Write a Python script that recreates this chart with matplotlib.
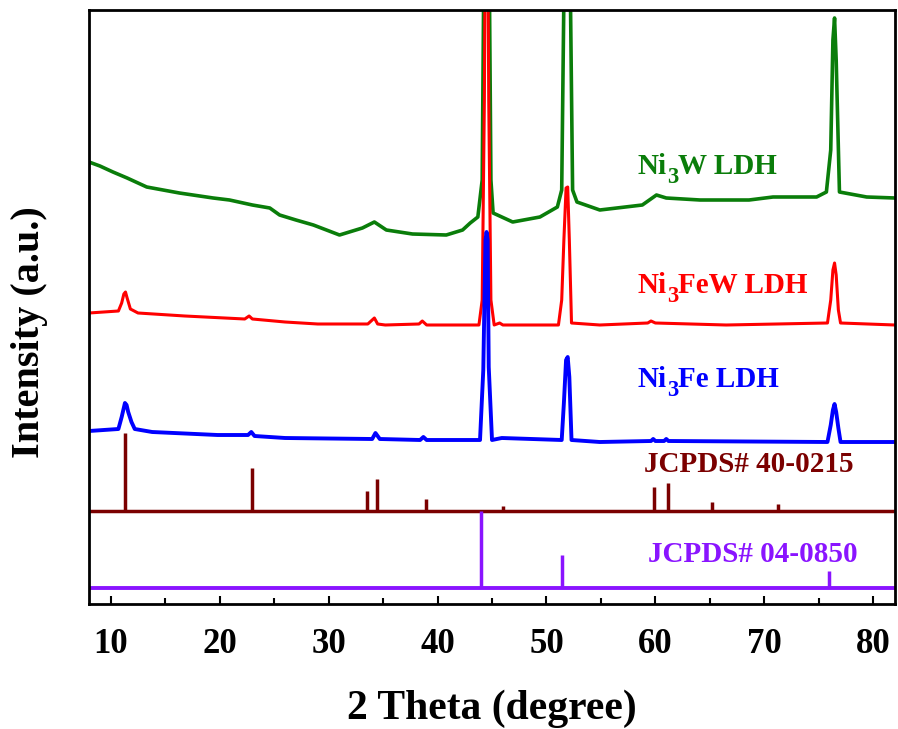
import matplotlib
matplotlib.use("Agg")
import matplotlib.pyplot as plt
import numpy as np
from matplotlib.ticker import MultipleLocator
from matplotlib.transforms import offset_copy

plt.rcParams['font.family'] = ['Liberation Serif', 'DejaVu Serif']
plt.rcParams['font.weight'] = 'bold'

# ---- data (arbitrary intensity units, offsets included) ----
TOP = 604
ni3w_x = [8.0, 9.0, 10.2, 11.5, 13.3, 16.3, 19.4, 20.9, 23.0, 24.6, 25.5, 27.0, 28.6, 31.0, 33.1, 34.2,
          35.3, 37.7, 40.8, 42.3, 43.0, 43.7, 44.1, 44.3, 44.5, 44.7, 44.9, 45.1, 46.9, 49.4, 51.0, 51.4,
          51.7, 51.9, 52.1, 52.4, 52.8, 54.9, 58.8, 60.1, 61.0, 64.1, 68.6, 70.8, 74.8, 75.7, 76.1, 76.3,
          76.45, 76.6, 76.9, 79.4, 82.0]
ni3w_py = [162, 166, 172, 178, 187, 193, 198, 200, 205, 208, 215, 220, 225, 235, 228, 222,
           230, 234, 235, 230, 223, 217, 180, -100, -300, -100, 180, 213, 222, 217, 207, 190,
           -100, -300, -100, 190, 202, 210, 205, 195, 198, 200, 200, 197, 197, 192, 150, 40,
           18, 60, 192, 197, 198]

ni3few_x = [8.0, 10.7, 11.0, 11.2, 11.35, 11.5, 11.8, 12.5, 16.8, 22.3, 22.7, 23.0, 26.0, 29.0, 33.6, 34.2,
            34.5, 35.2, 38.3, 38.6, 39.0, 43.8, 44.1, 44.3, 44.5, 44.7, 44.9, 45.2, 45.7, 46.0, 51.1, 51.4,
            51.6, 51.8, 51.95, 52.1, 52.3, 54.9, 59.3, 59.6, 60.0, 66.5, 75.8, 76.1, 76.3, 76.45, 76.6, 76.8,
            77.0, 82.0]
ni3few_py = [313, 311, 303, 294, 292, 298, 309, 313, 316, 319, 316, 319, 322, 324, 324, 318,
             324, 325, 324, 321, 325, 325, 300, 100, -300, 100, 300, 325, 323, 325, 325, 300,
             240, 188, 187, 240, 323, 325, 323, 321, 323, 325, 323, 300, 270, 263, 275, 310,
             323, 325]

ni3fe_x = [8.0, 10.7, 11.0, 11.3, 11.45, 11.6, 11.9, 12.2, 13.8, 19.8, 22.6, 22.9, 23.2, 26.0, 34.0, 34.3,
           34.7, 38.4, 38.7, 39.0, 43.9, 44.2, 44.4, 44.5, 44.6, 44.7, 45.0, 45.9, 51.4, 51.6, 51.8, 51.95,
           52.1, 52.3, 54.9, 59.6, 59.8, 60.0, 60.8, 61.0, 61.2, 75.8, 76.1, 76.3, 76.45, 76.6, 76.8, 77.0,
           82.0]
ni3fe_py = [431, 429, 417, 403, 405, 412, 422, 429, 432, 435, 435, 432, 436, 438, 439, 433,
            439, 440, 437, 440, 440, 370, 240, 232, 240, 367, 440, 438, 440, 403, 360, 357,
            377, 440, 442, 441, 439, 441, 441, 439, 441, 442, 425, 410, 404, 412, 428, 442,
            442]

ldh_ref_pos = [11.3, 23.0, 33.5, 34.4, 38.9, 46.0, 59.9, 61.2, 65.2, 71.3]
ldh_ref_h = [78, 43, 20, 32, 12, 5, 24, 28, 9, 7]
ldh_ref_base = 604 - 511

ni_ref_pos = [44.0, 51.4, 75.9]
ni_ref_h = [77, 33, 17]
ni_ref_base = 604 - 588

# sample labels split as (before subscript, subscript, after subscript)
sample_labels = [("Ni", "3", "W LDH"), ("Ni", "3", "FeW LDH"), ("Ni", "3", "Fe LDH")]
ref_labels = ["JCPDS# 40-0215", "JCPDS# 04-0850"]
xticks = [10, 20, 30, 40, 50, 60, 70, 80]

green = '#0A7D0A'
red = '#FF0000'
blue = '#0000FF'
dred = '#7B0000'
purple = '#8A14FF'

fig = plt.figure(figsize=(8.98, 7.29), dpi=100)
ax = fig.add_axes([89/898, (729-604)/729, (895-89)/898, 594/729])

def to_y(py):
    return TOP - np.asarray(py, dtype=float)

ax.plot(ni3w_x, to_y(ni3w_py), color=green, lw=2.6)
ax.plot(ni3few_x, to_y(ni3few_py), color=red, lw=2.2)
ax.plot(ni3fe_x, to_y(ni3fe_py), color=blue, lw=2.8)

ax.axhline(ldh_ref_base, color=dred, lw=2.5)
ax.vlines(ldh_ref_pos, ldh_ref_base, np.array(ldh_ref_h) + ldh_ref_base, color=dred, lw=2.5)
ax.axhline(ni_ref_base, color=purple, lw=2.8)
ax.vlines(ni_ref_pos, ni_ref_base, np.array(ni_ref_h) + ni_ref_base, color=purple, lw=2.5)

ax.set_xlim(8, 82)
ax.set_ylim(0, 594)
ax.set_yticks([])
ax.xaxis.set_minor_locator(MultipleLocator(5))
ax.set_xticks(xticks)
ax.set_xticklabels([str(t) for t in xticks])
ax.tick_params(axis='x', which='major', direction='in', length=6, width=1.5, labelsize=25, pad=17)
ax.tick_params(axis='x', which='minor', direction='in', length=4, width=1.5)
for s in ax.spines.values():
    s.set_linewidth(2)

ax.set_xlabel("2 Theta (degree)", fontsize=30, fontweight='bold', labelpad=21)
ax.set_ylabel("Intensity (a.u.)", fontsize=29, fontweight='bold')
ax.yaxis.set_label_coords(-0.051, 0.458)

renderer = fig.canvas.get_renderer()

def sub_label(x, y, parts, color, fs=21):
    before, sub, after = parts
    t1 = ax.text(x, y, before, color=color, fontsize=fs, fontweight='bold', va='baseline', ha='left')
    w1 = t1.get_window_extent(renderer).width
    tr2 = offset_copy(ax.transData, fig=fig, x=w1 * 72 / fig.dpi, y=-0.32 * fs, units='points')
    t2 = ax.text(x, y, sub, color=color, fontsize=fs * 0.78, fontweight='bold', va='baseline', ha='left',
                 transform=tr2)
    w2 = t2.get_window_extent(renderer).width
    tr3 = offset_copy(ax.transData, fig=fig, x=(w1 + w2) * 72 / fig.dpi, y=0, units='points')
    ax.text(x, y, after, color=color, fontsize=fs, fontweight='bold', va='baseline', ha='left', transform=tr3)

sub_label(58.4, to_y(174), sample_labels[0], green)
sub_label(58.4, to_y(293), sample_labels[1], red)
sub_label(58.4, to_y(387), sample_labels[2], blue)
ax.text(59.0, to_y(465), ref_labels[0], color=dred, fontweight='bold', fontsize=21, va='center', ha='left')
ax.text(59.3, to_y(555), ref_labels[1], color=purple, fontweight='bold', fontsize=21, va='center', ha='left')

fig.savefig("out.png", dpi=100)
